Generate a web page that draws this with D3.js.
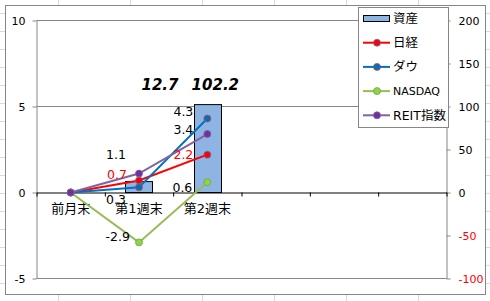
<!DOCTYPE html>
<html>
<head>
<meta charset="utf-8">
<script src="https://cdn.jsdelivr.net/npm/d3@7"></script>
<style>
  body { margin: 0; background: #fff; }
  svg { display: block; }
  text { font-family: "DejaVu Sans", "Noto Sans CJK JP", sans-serif; }
</style>
</head>
<body>
<div id="chart"></div>
<script>
// カテゴリ (6 枠、後ろ3つは空)
const categories = ['前月末', '第1週末', '第2週末', '', '', ''];
// 資産 (右軸)
const shisan = [null, 12.7, 102.2];
// 騰落率 (左軸)
const nikkei = [0, 0.7, 2.2];
const dow = [0, 0.3, 4.3];
const nasdaq = [0, -2.9, 0.6];
const reit = [0, 1.1, 3.4];
// 目盛
const leftTicks = [-5, 0, 5, 10];
const rightTicks = [-100, -50, 0, 50, 100, 150, 200];

const width = 490;
const height = 301;
const plot = { left: 36.5, right: 446.5, top: 20.5, bottom: 278.5 };

// Excel と同じくハイフンのマイナス
const locale = d3.formatLocale({ decimal: '.', thousands: ',', grouping: [3], currency: ['', ''], minus: '-' });
const fmt1 = locale.format('.1f');
const fmt0 = locale.format('d');

const svg = d3.select('#chart')
  .append('svg')
  .attr('width', width)
  .attr('height', height);

// シートの枠線
const sheet = svg.append('g').attr('stroke', '#d9d9d9').attr('stroke-width', 1);
d3.range(58.5, width, 72).forEach((x) => {
  sheet.append('line').attr('x1', x).attr('x2', x).attr('y1', 0).attr('y2', height);
});
d3.range(13.5, height, 18).forEach((y) => {
  sheet.append('line').attr('x1', 0).attr('x2', width).attr('y1', y).attr('y2', y);
});

// グラフエリア
svg.append('rect')
  .attr('x', 5.5).attr('y', 5.5)
  .attr('width', 480).attr('height', 289)
  .attr('fill', '#fff')
  .attr('stroke', '#868686');

// スケール
const x = d3.scaleBand()
  .domain(d3.range(categories.length))
  .range([plot.left, plot.right]);
const xBar = d3.scaleBand()
  .domain(d3.range(categories.length))
  .range([plot.left, plot.right])
  .paddingInner(0.6)
  .paddingOuter(0.3);
const xTick = d3.scaleLinear()
  .domain([0, categories.length])
  .range([plot.left, plot.right]);
const yL = d3.scaleLinear().domain([-5, 10]).range([plot.bottom, plot.top]);
const yR = d3.scaleLinear().domain([-100, 200]).range([plot.bottom, plot.top]);
const cx = (i) => x(i) + x.bandwidth() / 2;

// 目盛線
svg.append('g')
  .selectAll('line')
  .data(leftTicks.filter((d) => d !== 0))
  .enter()
  .append('line')
  .attr('x1', plot.left).attr('x2', plot.right)
  .attr('y1', (d) => yL(d)).attr('y2', (d) => yL(d))
  .attr('stroke', '#868686');

// 左軸
const axisL = svg.append('g')
  .attr('transform', `translate(${plot.left},0)`)
  .call(d3.axisLeft(yL).tickValues(leftTicks).tickFormat(fmt0)
    .tickSize(4).tickSizeOuter(0).tickPadding(7));
axisL.select('.domain').attr('stroke', '#868686');
axisL.selectAll('.tick line').attr('stroke', '#868686');
axisL.selectAll('text').attr('font-size', 11).attr('fill', '#000');

// 右軸
const axisR = svg.append('g')
  .attr('transform', `translate(${plot.right},0)`)
  .call(d3.axisRight(yR).tickValues(rightTicks).tickFormat(fmt0)
    .tickSize(4).tickSizeOuter(0).tickPadding(8));
axisR.select('.domain').attr('stroke', '#868686');
axisR.selectAll('.tick line').attr('stroke', '#868686');
axisR.selectAll('text')
  .attr('font-size', 11)
  .attr('fill', (d) => (d < 0 ? '#ff0000' : '#000'));

// 資産 (棒)
svg.append('g')
  .selectAll('rect')
  .data(shisan.map((v, i) => ({ v, i })).filter((d) => d.v != null))
  .enter()
  .append('rect')
  .attr('x', (d) => Math.round(xBar(d.i)) + 0.5)
  .attr('width', Math.round(xBar.bandwidth()))
  .attr('y', (d) => yR(d.v))
  .attr('height', (d) => yR(0) - yR(d.v))
  .attr('fill', '#8eb4e3')
  .attr('stroke', '#000')
  .attr('stroke-width', 1);

// カテゴリ軸 (0 の線)
const axisX = svg.append('g')
  .attr('transform', `translate(0,${yL(0)})`)
  .call(d3.axisBottom(xTick).ticks(categories.length).tickSize(4).tickSizeOuter(0).tickFormat(''));
axisX.select('.domain').attr('stroke', '#000');
axisX.selectAll('.tick line').attr('stroke', '#000');

svg.append('g')
  .selectAll('text')
  .data(categories)
  .enter()
  .append('text')
  .attr('x', (d, i) => cx(i))
  .attr('y', yL(0) + 16)
  .attr('dy', '0.35em')
  .attr('text-anchor', 'middle')
  .attr('font-size', 13)
  .attr('font-family', '"Noto Sans CJK JP", sans-serif')
  .text((d) => d);

// 折れ線
const series = [
  { name: '日経', values: nikkei, line: '#ff0000', fill: '#ff0000', edge: '#4a7ebb', label: '#ff0000',
    nudge: [null, [-12, -6], [-14, 0]] },
  { name: 'ダウ', values: dow, line: '#0070c0', fill: '#0070c0', edge: '#be4b48', label: '#000',
    nudge: [null, [-13, 12], [-14, -7]] },
  { name: 'NASDAQ', values: nasdaq, line: '#9bbb59', fill: '#92d050', edge: '#71a83c', label: '#000',
    nudge: [null, [-9, -6], [-15, 5]] },
  { name: 'REIT指数', values: reit, line: '#8064a2', fill: '#7030a0', edge: '#7f5fa1', label: '#000',
    nudge: [null, [-13, -19], [-14, -4]] }
];

const line = d3.line()
  .x((d, i) => cx(i))
  .y((d) => yL(d));

series.forEach((s) => {
  const g = svg.append('g');
  g.append('path')
    .attr('d', line(s.values))
    .attr('fill', 'none')
    .attr('stroke', s.line)
    .attr('stroke-width', 2);
  g.selectAll('circle')
    .data(s.values)
    .enter()
    .append('circle')
    .attr('cx', (d, i) => cx(i))
    .attr('cy', (d) => yL(d))
    .attr('r', 3.5)
    .attr('fill', s.fill)
    .attr('stroke', s.edge)
    .attr('stroke-width', 0.8);
});

// データラベル
series.forEach((s) => {
  svg.append('g')
    .selectAll('text')
    .data(s.values.map((v, i) => ({ v, i })).filter((d) => s.nudge[d.i]))
    .enter()
    .append('text')
    .attr('x', (d) => cx(d.i) + s.nudge[d.i][0])
    .attr('y', (d) => yL(d.v) + s.nudge[d.i][1])
    .attr('dy', '0.35em')
    .attr('text-anchor', 'end')
    .attr('font-size', 12.5)
    .attr('fill', s.label)
    .text((d) => fmt1(d.v));
});

const barNudge = [null, [21, -92], [8, -15]];
svg.append('g')
  .selectAll('text')
  .data(shisan.map((v, i) => ({ v, i })).filter((d) => d.v != null))
  .enter()
  .append('text')
  .attr('x', (d) => cx(d.i) + barNudge[d.i][0])
  .attr('y', (d) => yR(d.v) + barNudge[d.i][1])
  .attr('text-anchor', 'middle')
  .attr('font-family', '"Liberation Sans", Arial, sans-serif')
  .attr('font-size', 15)
  .attr('font-weight', 'bold')
  .attr('font-style', 'italic')
  .text((d) => fmt1(d.v));

// 凡例
const legend = svg.append('g').attr('class', 'legend');
legend.append('rect')
  .attr('x', 358.5).attr('y', 7.5)
  .attr('width', 90).attr('height', 120)
  .attr('fill', '#fff')
  .attr('stroke', '#868686');

const legendY = (i) => 18.5 + i * 24.2;
legend.append('rect')
  .attr('x', 363.5).attr('y', legendY(0) - 3)
  .attr('width', 26).attr('height', 6)
  .attr('fill', '#8eb4e3')
  .attr('stroke', '#000');
legend.append('text')
  .attr('x', 393).attr('y', legendY(0))
  .attr('dy', '0.35em')
  .attr('font-size', 12.5)
  .text('資産');

series.forEach((s, k) => {
  const yy = legendY(k + 1);
  legend.append('line')
    .attr('x1', 363).attr('x2', 390)
    .attr('y1', yy).attr('y2', yy)
    .attr('stroke', s.line)
    .attr('stroke-width', 2);
  legend.append('circle')
    .attr('cx', 377).attr('cy', yy).attr('r', 3.5)
    .attr('fill', s.fill)
    .attr('stroke', s.edge)
    .attr('stroke-width', 0.8);
  legend.append('text')
    .attr('x', 393).attr('y', yy)
    .attr('dy', '0.35em')
    .attr('font-size', s.name === 'NASDAQ' ? 11 : 12.5)
    .text(s.name);
});
</script>
</body>
</html>
